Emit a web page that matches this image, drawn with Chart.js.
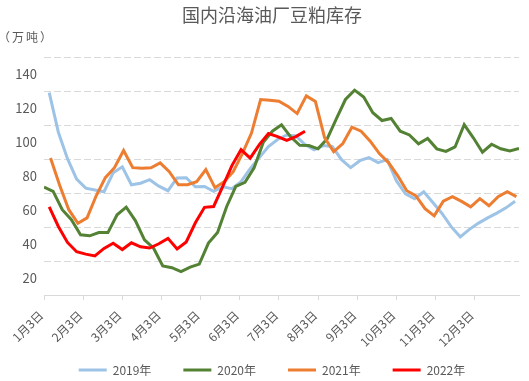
<!DOCTYPE html>
<html>
<head>
<meta charset="utf-8">
<script src="https://cdn.jsdelivr.net/npm/chart.js@4.4.1/dist/chart.umd.min.js"></script>
<style>
  html, body { margin: 0; padding: 0; background: #fff; }
  #wrap { width: 529px; height: 381px; }
</style>
</head>
<body>
<div id="wrap"><canvas id="chart"></canvas></div>
<script>
// Weekly soybean meal stocks at coastal crushers (10k tonnes)
const monthLabels = ['1月3日', '2月3日', '3月3日', '4月3日', '5月3日', '6月3日',
                     '7月3日', '8月3日', '9月3日', '10月3日', '11月3日', '12月3日'];
const yLabels = [20, 40, 60, 80, 100, 120, 140];

// first reading of each year, in days after Jan 3
const start2019 = 4;
const start2020 = 0;
const start2021 = 5;
const start2022 = 4;

const stock2019 = [129.3, 106, 90.4, 78.3, 73, 71.9, 70.9, 82.1, 85.6, 75, 75.9, 78, 74.2, 71.5,
                   79, 79.2, 73.8, 74, 71.1, 73.8, 72.7, 76.8, 84.5, 91, 97.5, 101.7, 104.4, 103.8,
                   98.7, 95.6, 98.1, 97.5, 89.8, 85.1, 89.2, 91, 88.1, 89.8, 77.4, 69.7, 66.8, 70.9,
                   64.5, 58.1, 50.3, 44.3, 48.7, 52.4, 55.5, 58.3, 61.4, 65.3];
const stock2020 = [73.7, 71.1, 60.3, 54.4, 45.5, 44.9, 46.8, 46.8, 57.3, 61.8, 53.9, 42.5, 37.6, 27.1,
                   26.1, 23.8, 26.4, 28.2, 40.6, 46.8, 62.2, 74, 76.4, 85, 100, 106.6, 110.4, 103.3,
                   98.3, 98.1, 96.2, 102.1, 113.9, 125.3, 130.8, 126.7, 117.5, 112.9, 114.1, 106.6,
                   104.4, 99.1, 102.3, 96.2, 94.7, 97.3, 110.5, 102.7, 94.2, 98.9, 96.2, 95, 96.5];
const stock2021 = [90.8, 74.7, 60.3, 52.3, 55.5, 68.5, 79.2, 85.1, 95.2, 85.1, 84.8, 85, 87.9, 82.7,
                   75, 75, 76.8, 83.9, 73.3, 76.8, 82.7, 93.4, 105.5, 125.3, 124.9, 124.3, 121.2, 117,
                   127.4, 124.1, 102.8, 94.5, 99.3, 109, 106.6, 100.7, 93.4, 88.1, 80.4, 71.5, 68.5,
                   60.9, 56.7, 65.3, 68, 65.2, 62, 66.8, 62.6, 68, 70.9, 68];
const stock2022 = [62, 50.4, 41, 35.5, 34.1, 33, 37.5, 40.5, 36.8, 40.8, 38.4, 37.7, 40.2, 43.4,
                   37.2, 41.3, 52.6, 61.7, 62.2, 74, 86.3, 95.7, 90.7, 98.7, 105.2, 103.4, 101.2,
                   103.4, 106.6];

const textColor = '#595959';
const gridColor = '#d9d9d9';
const fontFamily = "'Noto Sans CJK SC', 'Noto Sans', sans-serif";

function weekly(values, startDay) {
    return values.map((v, i) => ({ x: startDay + i * 7, y: v }));
}

function lineSet(label, values, startDay, color, order) {
    return {
        label: label,
        data: weekly(values, startDay),
        borderColor: color,
        backgroundColor: color,
        borderWidth: 3,
        pointRadius: 0,
        tension: 0,
        fill: false,
        order: order
    };
}

// tick labels may spill past their (squeezed) axis box, so don't clip them
function unclipLabels(scale) {
    scale._computeLabelArea = () => undefined;
}

// unit caption above the y axis
const unitLabel = {
    id: 'unitLabel',
    afterDraw(chart) {
        const ctx = chart.ctx;
        ctx.save();
        ctx.font = '12px ' + fontFamily;
        ctx.fillStyle = textColor;
        ctx.textBaseline = 'middle';
        ctx.letterSpacing = '2px';
        ctx.fillText('（万吨）', -2, 37);
        ctx.restore();
    }
};

new Chart(document.getElementById('chart'), {
    type: 'line',
    data: {
        datasets: [
            lineSet('2019年', stock2019, start2019, '#9dc3e6', 3),
            lineSet('2020年', stock2020, start2020, '#548235', 2),
            lineSet('2021年', stock2021, start2021, '#ed7d31', 1),
            lineSet('2022年', stock2022, start2022, '#ff0000', 0)
        ]
    },
    options: {
        responsive: true,
        maintainAspectRatio: false,
        animation: false,
        layout: { padding: { left: 25, right: 10, top: 0, bottom: -5 } },
        plugins: {
            title: {
                display: true,
                text: '国内沿海油厂豆粕库存',
                color: textColor,
                font: { family: fontFamily, size: 18, weight: 'normal' },
                padding: { top: 4, bottom: 32 }
            },
            legend: {
                position: 'bottom',
                labels: {
                    color: textColor,
                    font: { family: fontFamily, size: 12 },
                    boxWidth: 28,
                    boxHeight: 3,
                    padding: 32,
                    generateLabels: (chart) => chart.data.datasets.map((ds, i) => ({
                        text: ds.label,
                        fillStyle: ds.borderColor,
                        strokeStyle: ds.borderColor,
                        lineWidth: 0,
                        fontColor: textColor,
                        hidden: false,
                        datasetIndex: i
                    }))
                }
            },
            tooltip: { enabled: false }
        },
        scales: {
            x: {
                type: 'linear',
                min: 0,
                max: 364,
                afterBuildTicks: (axis) => {
                    axis.ticks = monthLabels.map((_, i) => ({ value: i * 30 }));
                },
                afterFit: (scale) => {
                    scale.height = 37;
                    unclipLabels(scale);
                },
                ticks: {
                    autoSkip: false,
                    minRotation: 45,
                    maxRotation: 45,
                    padding: 8,
                    labelOffset: -3,
                    color: textColor,
                    font: { family: fontFamily, size: 12 },
                    callback: (value, index) => monthLabels[index]
                },
                grid: {
                    drawOnChartArea: false,
                    drawTicks: true,
                    tickLength: 5,
                    tickColor: gridColor
                },
                border: { display: true, color: gridColor, width: 1 }
            },
            y: {
                min: 10,
                max: 150,
                afterBuildTicks: (axis) => {
                    axis.ticks = yLabels.map(v => ({ value: v }));
                },
                afterFit: (scale) => {
                    scale.width = 19;
                    unclipLabels(scale);
                },
                ticks: {
                    padding: 7,
                    color: textColor,
                    font: { family: fontFamily, size: 13 }
                },
                grid: {
                    offset: true,
                    drawTicks: false,
                    color: gridColor,
                    lineWidth: 1
                },
                border: { display: false, dash: [7, 3] }
            }
        }
    },
    plugins: [unitLabel]
});
</script>
</body>
</html>
